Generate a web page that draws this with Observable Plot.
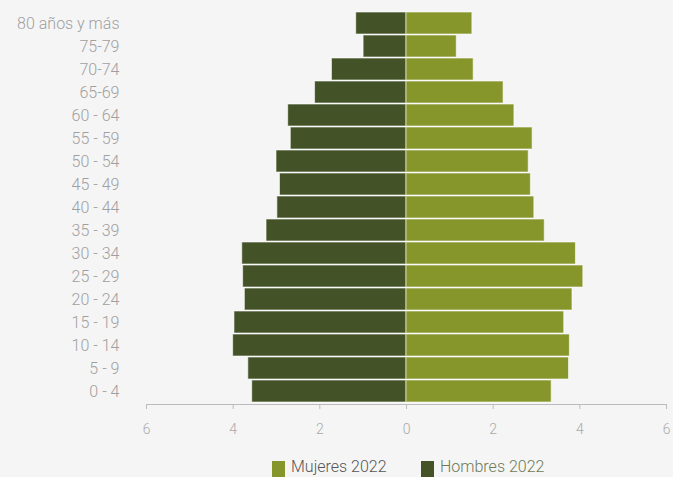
<!DOCTYPE html>
<html>
<head>
<meta charset="utf-8">
<script src="https://cdn.jsdelivr.net/npm/d3@7"></script>
<script src="https://cdn.jsdelivr.net/npm/@observablehq/plot@0.6"></script>
<style>
  html, body { margin: 0; padding: 0; background: #f5f5f5; }
  body { width: 673px; height: 477px; overflow: hidden; font-family: Roboto, "Open Sans", sans-serif; }
  #legend { position: absolute; left: 0; top: 459px; width: 673px; height: 18px; }
  .item { position: absolute; top: 0; display: flex; align-items: flex-start; }
  .sw { width: 13px; height: 16px; display: inline-block; margin-top: 2px; }
  .lab { font-size: 16px; font-weight: 300; margin-left: 6px; line-height: 16px; }
</style>
</head>
<body>
<div id="chart"></div>
<div id="legend">
  <div class="item" style="left:272px"><span class="sw" style="background:#87962b"></span><span class="lab" style="color:#555">Mujeres 2022</span></div>
  <div class="item" style="left:421px"><span class="sw" style="background:#435327"></span><span class="lab" style="color:#6d7a55">Hombres 2022</span></div>
</div>
<script>
const categories = ["80 años y más","75-79","70-74","65-69","60 - 64","55 - 59","50 - 54","45 - 49","40 - 44","35 - 39","30 - 34","25 - 29","20 - 24","15 - 19","10 - 14","5 - 9","0 - 4"];
const hombres = [1.16, 0.99, 1.72, 2.11, 2.73, 2.67, 3.00, 2.92, 2.98, 3.23, 3.79, 3.77, 3.73, 3.97, 4.00, 3.65, 3.56];
const mujeres = [1.52, 1.16, 1.55, 2.24, 2.49, 2.91, 2.82, 2.87, 2.95, 3.19, 3.91, 4.08, 3.83, 3.64, 3.77, 3.75, 3.35];
const xTicks = [-6, -4, -2, 0, 2, 4, 6];

const data = categories.flatMap((c, i) => [
  {cat: c, sexo: "Hombres 2022", v: -hombres[i]},
  {cat: c, sexo: "Mujeres 2022", v: mujeres[i]}
]);

const chart = Plot.plot({
  width: 673,
  height: 455,
  marginLeft: 146,
  marginRight: 7,
  marginTop: 9,
  marginBottom: 51,
  style: {background: "#f5f5f5", fontFamily: "Roboto, sans-serif", overflow: "visible"},
  x: {domain: [-6, 6], ticks: xTicks, tickFormat: d => Math.abs(d), label: null},
  y: {domain: categories, padding: 0.06, label: null},
  color: {domain: ["Mujeres 2022", "Hombres 2022"], range: ["#87962b", "#435327"]},
  marks: [
    Plot.barX(data, {x1: 0, x2: "v", y: "cat", fill: "sexo", stroke: "#ffffff", strokeWidth: 1, strokeOpacity: 0.6}),
    Plot.frame({anchor: "bottom", stroke: "#bbb"}),
    Plot.axisX({ticks: xTicks, tickFormat: d => Math.abs(d), tickSize: 5, tickPadding: 15, stroke: "#bbb", fill: "#aaa", fontSize: 14, fontWeight: 300, label: null}),
    Plot.axisY({tickSize: 0, tickPadding: 27, fill: "#a0a0a0", fontSize: 16, fontWeight: 300, label: null})
  ]
});
document.getElementById("chart").appendChild(chart);
</script>
</body>
</html>
